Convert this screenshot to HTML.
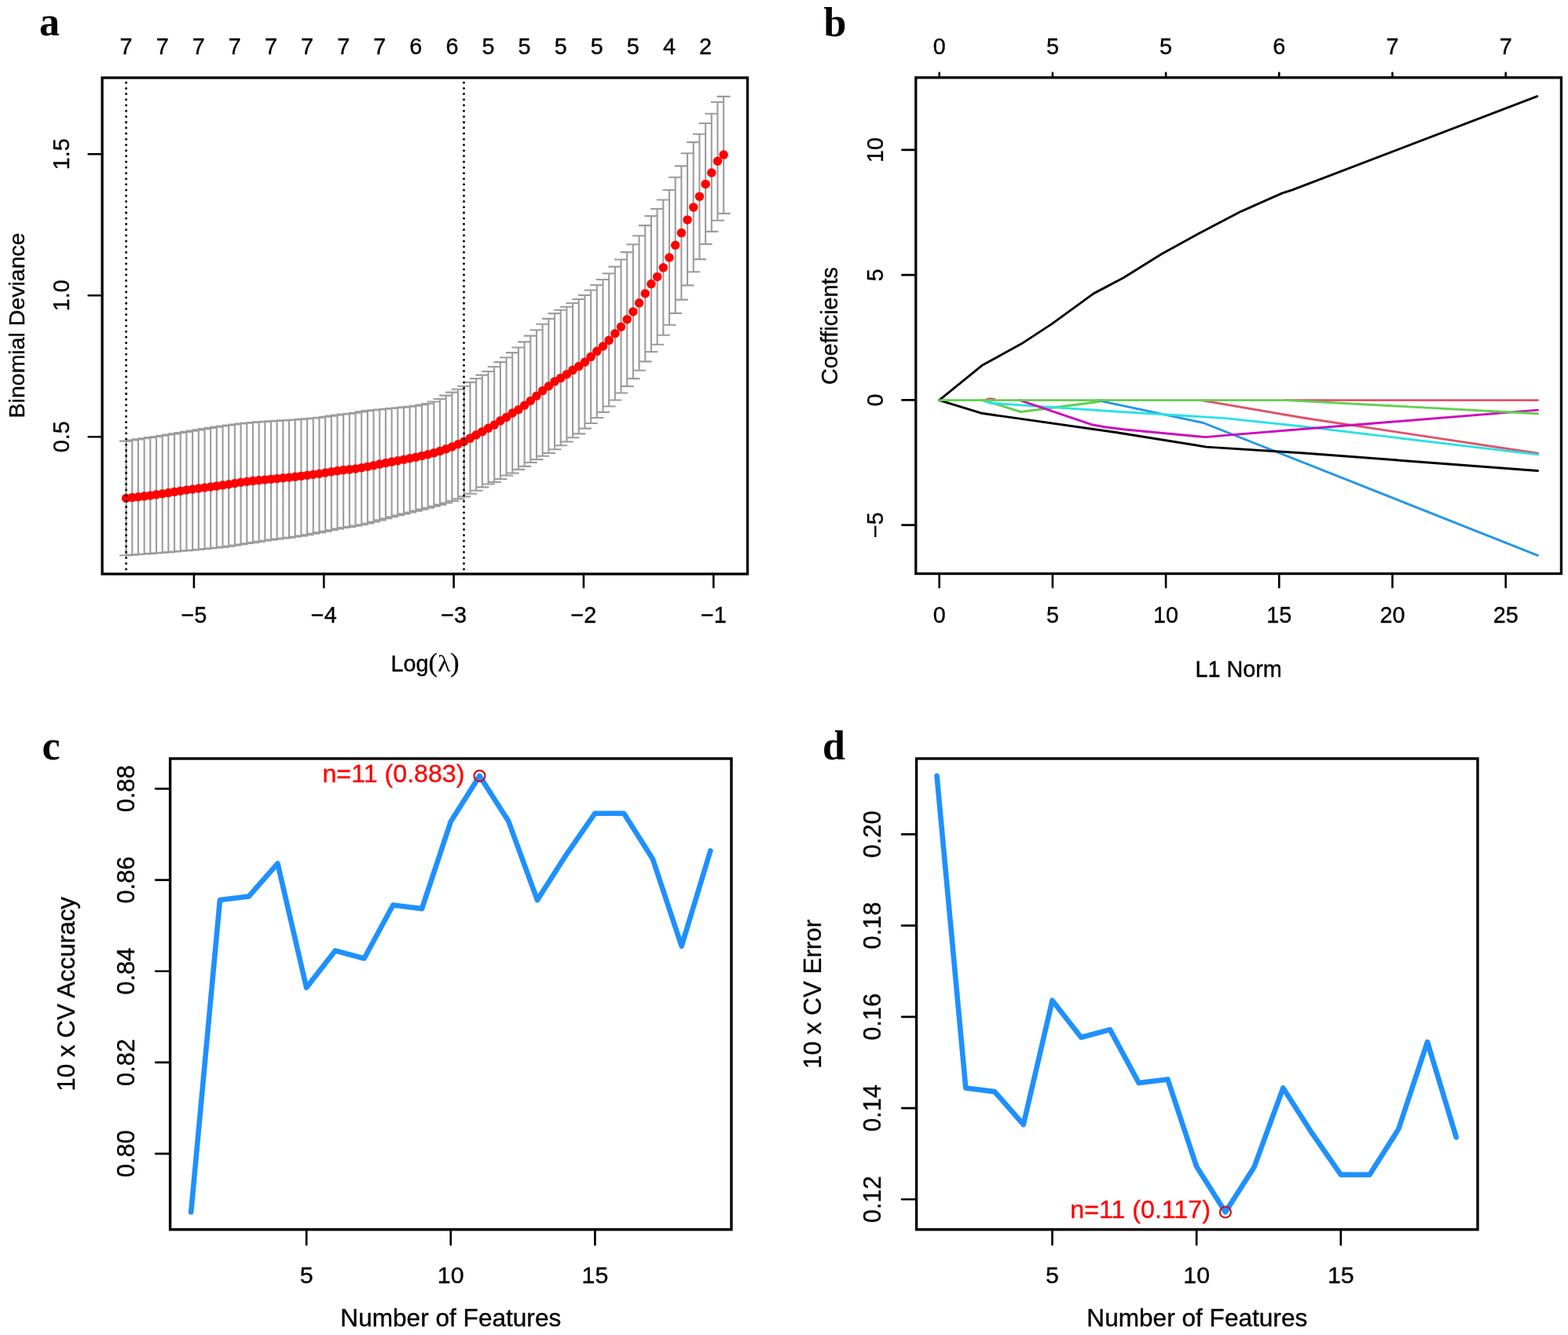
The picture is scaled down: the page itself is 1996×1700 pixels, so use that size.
<!DOCTYPE html>
<html><head><meta charset="utf-8"><title>Figure</title>
<style>html,body{margin:0;padding:0;background:#fff;}svg{display:block;}</style></head>
<body><svg width="1996" height="1700" viewBox="0 0 1996 1700">
<rect width="1996" height="1700" fill="#fff"/>
<path d="M160.60 561.59V707.19M152.10 561.59H169.10M152.10 707.19H169.10M168.28 560.52V706.63M159.78 560.52H176.78M159.78 706.63H176.78M175.96 559.42V706.06M167.46 559.42H184.46M167.46 706.06H184.46M183.65 558.31V705.48M175.15 558.31H192.15M175.15 705.48H192.15M191.33 557.17V704.89M182.83 557.17H199.83M182.83 704.89H199.83M199.01 556.00V704.29M190.51 556.00H207.51M190.51 704.29H207.51M206.69 554.80V703.69M198.19 554.80H215.19M198.19 703.69H215.19M214.38 553.57V703.08M205.88 553.57H222.88M205.88 703.08H222.88M222.06 552.33V702.46M213.56 552.33H230.56M213.56 702.46H230.56M229.74 551.08V701.81M221.24 551.08H238.24M221.24 701.81H238.24M237.42 549.84V701.15M228.92 549.84H245.92M228.92 701.15H245.92M245.11 548.61V700.46M236.61 548.61H253.61M236.61 700.46H253.61M252.79 547.36V699.76M244.29 547.36H261.29M244.29 699.76H261.29M260.47 546.10V699.05M251.97 546.10H268.97M251.97 699.05H268.97M268.15 544.86V698.29M259.65 544.86H276.65M259.65 698.29H276.65M275.83 543.67V697.49M267.33 543.67H284.33M267.33 697.49H284.33M283.52 542.55V696.61M275.02 542.55H292.02M275.02 696.61H292.02M291.20 541.49V695.63M282.70 541.49H299.70M282.70 695.63H299.70M298.88 540.47V694.48M290.38 540.47H307.38M290.38 694.48H307.38M306.56 539.53V693.27M298.06 539.53H315.06M298.06 693.27H315.06M314.25 538.70V692.06M305.75 538.70H322.75M305.75 692.06H322.75M321.93 538.01V690.87M313.43 538.01H330.43M313.43 690.87H330.43M329.61 537.40V689.66M321.11 537.40H338.11M321.11 689.66H338.11M337.29 536.85V688.47M328.79 536.85H345.79M328.79 688.47H345.79M344.98 536.33V687.36M336.48 536.33H353.48M336.48 687.36H353.48M352.66 535.85V686.38M344.16 535.85H361.16M344.16 686.38H361.16M360.34 535.42V685.50M351.84 535.42H368.84M351.84 685.50H368.84M368.02 534.99V684.59M359.52 534.99H376.52M359.52 684.59H376.52M375.70 534.49V683.57M367.20 534.49H384.20M367.20 683.57H384.20M383.39 533.90V682.36M374.89 533.90H391.89M374.89 682.36H391.89M391.07 533.24V681.00M382.57 533.24H399.57M382.57 681.00H399.57M398.75 532.50V679.57M390.25 532.50H407.25M390.25 679.57H407.25M406.43 531.70V678.12M397.93 531.70H414.93M397.93 678.12H414.93M414.12 530.71V676.58M405.62 530.71H422.62M405.62 676.58H422.62M421.80 529.59V674.98M413.30 529.59H430.30M413.30 674.98H430.30M429.48 528.48V673.42M420.98 528.48H437.98M420.98 673.42H437.98M437.16 527.53V672.04M428.66 527.53H445.66M428.66 672.04H445.66M444.85 526.78V670.91M436.35 526.78H453.35M436.35 670.91H453.35M452.53 525.82V669.66M444.03 525.82H461.03M444.03 669.66H461.03M460.21 524.37V668.21M451.71 524.37H468.71M451.71 668.21H468.71M467.89 523.14V666.54M459.39 523.14H476.39M459.39 666.54H476.39M475.57 522.23V664.54M467.07 522.23H484.07M467.07 664.54H484.07M483.26 521.44V662.36M474.76 521.44H491.76M474.76 662.36H491.76M490.94 520.69V660.23M482.44 520.69H499.44M482.44 660.23H499.44M498.62 519.97V658.25M490.12 519.97H507.12M490.12 658.25H507.12M506.30 519.31V656.32M497.80 519.31H514.80M497.80 656.32H514.80M513.99 518.59V654.41M505.49 518.59H522.49M505.49 654.41H522.49M521.67 517.73V652.48M513.17 517.73H530.17M513.17 652.48H530.17M529.35 516.76V650.58M520.85 516.76H537.85M520.85 650.58H537.85M537.03 515.57V648.66M528.53 515.57H545.53M528.53 648.66H545.53M544.72 514.01V646.68M536.22 514.01H553.22M536.22 646.68H553.22M552.40 511.48V644.68M543.90 511.48H560.90M543.90 644.68H560.90M560.08 508.05V642.61M551.58 508.05H568.58M551.58 642.61H568.58M567.76 503.59V640.40M559.26 503.59H576.26M559.26 640.40H576.26M575.44 499.63V638.00M566.94 499.63H583.94M566.94 638.00H583.94M583.13 495.78V635.39M574.63 495.78H591.63M574.63 635.39H591.63M590.81 491.71V632.40M582.31 491.71H599.31M582.31 632.40H599.31M598.49 486.88V628.72M589.99 486.88H606.99M589.99 628.72H606.99M606.17 481.94V624.68M597.67 481.94H614.67M597.67 624.68H614.67M613.86 477.66V620.39M605.36 477.66H622.36M605.36 620.39H622.36M621.54 472.95V616.53M613.04 472.95H630.04M613.04 616.53H630.04M629.22 466.96V613.91M620.72 466.96H637.72M620.72 613.91H637.72M636.90 461.10V609.94M628.40 461.10H645.40M628.40 609.94H645.40M644.58 455.21V605.51M636.08 455.21H653.08M636.08 605.51H653.08M652.27 449.14V602.47M643.77 449.14H660.77M643.77 602.47H660.77M659.95 442.47V597.92M651.45 442.47H668.45M651.45 597.92H668.45M667.63 435.40V593.91M659.13 435.40H676.13M659.13 593.91H676.13M675.31 427.63V589.07M666.81 427.63H683.81M666.81 589.07H683.81M683.00 420.24V585.14M674.50 420.24H691.50M674.50 585.14H691.50M690.68 412.82V580.71M682.18 412.82H699.18M682.18 580.71H699.18M698.36 405.83V577.05M689.86 405.83H706.86M689.86 577.05H706.86M706.04 399.14V572.32M697.54 399.14H714.54M697.54 572.32H714.54M713.73 394.69V567.27M705.23 394.69H722.23M705.23 567.27H722.23M721.41 390.73V562.56M712.91 390.73H729.91M712.91 562.56H729.91M729.09 385.98V557.21M720.59 385.98H737.59M720.59 557.21H737.59M736.77 381.04V552.40M728.27 381.04H745.27M728.27 552.40H745.27M744.45 375.86V545.59M735.95 375.86H752.95M735.95 545.59H752.95M752.14 369.49V539.01M743.64 369.49H760.64M743.64 539.01H760.64M759.82 362.96V532.01M751.32 362.96H768.32M751.32 532.01H768.32M767.50 356.02V524.83M759.00 356.02H776.00M759.00 524.83H776.00M775.18 348.18V517.52M766.68 348.18H783.68M766.68 517.52H783.68M782.87 339.58V509.44M774.37 339.58H791.37M774.37 509.44H791.37M790.55 330.54V500.54M782.05 330.54H799.05M782.05 500.54H799.05M798.23 321.16V491.88M789.73 321.16H806.73M789.73 491.88H806.73M805.91 311.22V482.08M797.41 311.22H814.41M797.41 482.08H814.41M813.60 300.32V471.79M805.10 300.32H822.10M805.10 471.79H822.10M821.28 287.14V460.38M812.78 287.14H829.78M812.78 460.38H829.78M828.96 275.09V447.97M820.46 275.09H837.46M820.46 447.97H837.46M836.64 266.04V438.74M828.14 266.04H845.14M828.14 438.74H845.14M844.32 254.45V426.74M835.82 254.45H852.82M835.82 426.74H852.82M852.01 242.07V413.77M843.51 242.07H860.51M843.51 413.77H860.51M859.69 225.82V398.84M851.19 225.82H868.19M851.19 398.84H868.19M867.37 211.36V381.67M858.87 211.36H875.87M858.87 381.67H875.87M875.05 195.19V363.38M866.55 195.19H883.55M866.55 363.38H883.55M882.74 181.14V346.32M874.24 181.14H891.24M874.24 346.32H891.24M890.42 170.73V330.09M881.92 170.73H898.92M881.92 330.09H898.92M898.10 157.03V310.87M889.60 157.03H906.60M889.60 310.87H906.60M905.78 144.73V294.83M897.28 144.73H914.28M897.28 294.83H914.28M913.47 129.94V280.75M904.97 129.94H921.97M904.97 280.75H921.97M921.15 122.86V271.92M912.65 122.86H929.65M912.65 271.92H929.65" stroke="#9c9c9c" stroke-width="2.1" fill="none"/>
<g fill="#ff0000"><circle cx="160.60" cy="634.39" r="5.75"/><circle cx="168.28" cy="633.59" r="5.75"/><circle cx="175.96" cy="632.74" r="5.75"/><circle cx="183.65" cy="631.84" r="5.75"/><circle cx="191.33" cy="630.88" r="5.75"/><circle cx="199.01" cy="629.87" r="5.75"/><circle cx="206.69" cy="628.76" r="5.75"/><circle cx="214.38" cy="627.58" r="5.75"/><circle cx="222.06" cy="626.36" r="5.75"/><circle cx="229.74" cy="625.16" r="5.75"/><circle cx="237.42" cy="624.00" r="5.75"/><circle cx="245.11" cy="622.92" r="5.75"/><circle cx="252.79" cy="621.89" r="5.75"/><circle cx="260.47" cy="620.90" r="5.75"/><circle cx="268.15" cy="619.90" r="5.75"/><circle cx="275.83" cy="618.90" r="5.75"/><circle cx="283.52" cy="617.85" r="5.75"/><circle cx="291.20" cy="616.72" r="5.75"/><circle cx="298.88" cy="615.50" r="5.75"/><circle cx="306.56" cy="614.29" r="5.75"/><circle cx="314.25" cy="613.23" r="5.75"/><circle cx="321.93" cy="612.36" r="5.75"/><circle cx="329.61" cy="611.59" r="5.75"/><circle cx="337.29" cy="610.88" r="5.75"/><circle cx="344.98" cy="610.14" r="5.75"/><circle cx="352.66" cy="609.39" r="5.75"/><circle cx="360.34" cy="608.66" r="5.75"/><circle cx="368.02" cy="607.90" r="5.75"/><circle cx="375.70" cy="607.08" r="5.75"/><circle cx="383.39" cy="606.18" r="5.75"/><circle cx="391.07" cy="605.22" r="5.75"/><circle cx="398.75" cy="604.22" r="5.75"/><circle cx="406.43" cy="603.17" r="5.75"/><circle cx="414.12" cy="602.01" r="5.75"/><circle cx="421.80" cy="600.79" r="5.75"/><circle cx="429.48" cy="599.61" r="5.75"/><circle cx="437.16" cy="598.62" r="5.75"/><circle cx="444.85" cy="597.87" r="5.75"/><circle cx="452.53" cy="596.96" r="5.75"/><circle cx="460.21" cy="595.73" r="5.75"/><circle cx="467.89" cy="594.28" r="5.75"/><circle cx="475.57" cy="592.70" r="5.75"/><circle cx="483.26" cy="591.10" r="5.75"/><circle cx="490.94" cy="589.56" r="5.75"/><circle cx="498.62" cy="588.12" r="5.75"/><circle cx="506.30" cy="586.68" r="5.75"/><circle cx="513.99" cy="585.21" r="5.75"/><circle cx="521.67" cy="583.69" r="5.75"/><circle cx="529.35" cy="582.15" r="5.75"/><circle cx="537.03" cy="580.52" r="5.75"/><circle cx="544.72" cy="578.70" r="5.75"/><circle cx="552.40" cy="576.66" r="5.75"/><circle cx="560.08" cy="574.39" r="5.75"/><circle cx="567.76" cy="571.87" r="5.75"/><circle cx="575.44" cy="569.02" r="5.75"/><circle cx="583.13" cy="565.74" r="5.75"/><circle cx="590.81" cy="562.16" r="5.75"/><circle cx="598.49" cy="558.11" r="5.75"/><circle cx="606.17" cy="553.87" r="5.75"/><circle cx="613.86" cy="549.64" r="5.75"/><circle cx="621.54" cy="545.36" r="5.75"/><circle cx="629.22" cy="541.06" r="5.75"/><circle cx="636.90" cy="535.84" r="5.75"/><circle cx="644.58" cy="531.38" r="5.75"/><circle cx="652.27" cy="526.03" r="5.75"/><circle cx="659.95" cy="521.71" r="5.75"/><circle cx="667.63" cy="516.26" r="5.75"/><circle cx="675.31" cy="510.48" r="5.75"/><circle cx="683.00" cy="504.25" r="5.75"/><circle cx="690.68" cy="497.59" r="5.75"/><circle cx="698.36" cy="491.74" r="5.75"/><circle cx="706.04" cy="485.81" r="5.75"/><circle cx="713.73" cy="481.39" r="5.75"/><circle cx="721.41" cy="476.66" r="5.75"/><circle cx="729.09" cy="471.31" r="5.75"/><circle cx="736.77" cy="466.52" r="5.75"/><circle cx="744.45" cy="461.12" r="5.75"/><circle cx="752.14" cy="454.31" r="5.75"/><circle cx="759.82" cy="447.33" r="5.75"/><circle cx="767.50" cy="441.05" r="5.75"/><circle cx="775.18" cy="433.31" r="5.75"/><circle cx="782.87" cy="424.74" r="5.75"/><circle cx="790.55" cy="416.14" r="5.75"/><circle cx="798.23" cy="406.79" r="5.75"/><circle cx="805.91" cy="396.89" r="5.75"/><circle cx="813.60" cy="385.81" r="5.75"/><circle cx="821.28" cy="373.78" r="5.75"/><circle cx="828.96" cy="361.61" r="5.75"/><circle cx="836.64" cy="352.44" r="5.75"/><circle cx="844.32" cy="340.84" r="5.75"/><circle cx="852.01" cy="327.97" r="5.75"/><circle cx="859.69" cy="312.23" r="5.75"/><circle cx="867.37" cy="296.56" r="5.75"/><circle cx="875.05" cy="279.89" r="5.75"/><circle cx="882.74" cy="263.93" r="5.75"/><circle cx="890.42" cy="250.16" r="5.75"/><circle cx="898.10" cy="234.40" r="5.75"/><circle cx="905.78" cy="220.03" r="5.75"/><circle cx="913.47" cy="205.25" r="5.75"/><circle cx="921.15" cy="197.10" r="5.75"/></g>
<line x1="160.6" y1="105.2" x2="160.6" y2="731" stroke="#000" stroke-width="3.0" stroke-dasharray="0.01 7.193" stroke-linecap="round"/>
<line x1="590.5" y1="105.2" x2="590.5" y2="731" stroke="#000" stroke-width="3.0" stroke-dasharray="0.01 7.193" stroke-linecap="round"/>
<rect x="130.1" y="99.0" width="821.50" height="631.90" fill="none" stroke="#000" stroke-width="3.3"/>
<line x1="112.70" y1="556.30" x2="130.10" y2="556.30" stroke="#000" stroke-width="2.6" stroke-linecap="round"/>
<text x="88.00" y="556.30" font-size="28.8" text-anchor="middle" fill="#000" stroke="#000" stroke-width="0.35" font-family='"Liberation Sans", Arial, Helvetica, sans-serif' font-weight="normal" transform="rotate(-90 88.00 556.30)">0.5</text>
<line x1="112.70" y1="376.30" x2="130.10" y2="376.30" stroke="#000" stroke-width="2.6" stroke-linecap="round"/>
<text x="88.00" y="376.30" font-size="28.8" text-anchor="middle" fill="#000" stroke="#000" stroke-width="0.35" font-family='"Liberation Sans", Arial, Helvetica, sans-serif' font-weight="normal" transform="rotate(-90 88.00 376.30)">1.0</text>
<line x1="112.70" y1="196.30" x2="130.10" y2="196.30" stroke="#000" stroke-width="2.6" stroke-linecap="round"/>
<text x="88.00" y="196.30" font-size="28.8" text-anchor="middle" fill="#000" stroke="#000" stroke-width="0.35" font-family='"Liberation Sans", Arial, Helvetica, sans-serif' font-weight="normal" transform="rotate(-90 88.00 196.30)">1.5</text>
<line x1="246.90" y1="730.90" x2="246.90" y2="748.00" stroke="#000" stroke-width="2.6" stroke-linecap="round"/>
<text x="246.90" y="793.00" font-size="28.8" text-anchor="middle" fill="#000" stroke="#000" stroke-width="0.35" font-family='"Liberation Sans", Arial, Helvetica, sans-serif' font-weight="normal">−5</text>
<line x1="412.25" y1="730.90" x2="412.25" y2="748.00" stroke="#000" stroke-width="2.6" stroke-linecap="round"/>
<text x="412.25" y="793.00" font-size="28.8" text-anchor="middle" fill="#000" stroke="#000" stroke-width="0.35" font-family='"Liberation Sans", Arial, Helvetica, sans-serif' font-weight="normal">−4</text>
<line x1="577.60" y1="730.90" x2="577.60" y2="748.00" stroke="#000" stroke-width="2.6" stroke-linecap="round"/>
<text x="577.60" y="793.00" font-size="28.8" text-anchor="middle" fill="#000" stroke="#000" stroke-width="0.35" font-family='"Liberation Sans", Arial, Helvetica, sans-serif' font-weight="normal">−3</text>
<line x1="742.95" y1="730.90" x2="742.95" y2="748.00" stroke="#000" stroke-width="2.6" stroke-linecap="round"/>
<text x="742.95" y="793.00" font-size="28.8" text-anchor="middle" fill="#000" stroke="#000" stroke-width="0.35" font-family='"Liberation Sans", Arial, Helvetica, sans-serif' font-weight="normal">−2</text>
<line x1="908.30" y1="730.90" x2="908.30" y2="748.00" stroke="#000" stroke-width="2.6" stroke-linecap="round"/>
<text x="908.30" y="793.00" font-size="28.8" text-anchor="middle" fill="#000" stroke="#000" stroke-width="0.35" font-family='"Liberation Sans", Arial, Helvetica, sans-serif' font-weight="normal">−1</text>
<text x="160.60" y="68.60" font-size="28.8" text-anchor="middle" fill="#000" stroke="#000" stroke-width="0.35" font-family='"Liberation Sans", Arial, Helvetica, sans-serif' font-weight="normal">7</text>
<text x="206.69" y="68.60" font-size="28.8" text-anchor="middle" fill="#000" stroke="#000" stroke-width="0.35" font-family='"Liberation Sans", Arial, Helvetica, sans-serif' font-weight="normal">7</text>
<text x="252.78" y="68.60" font-size="28.8" text-anchor="middle" fill="#000" stroke="#000" stroke-width="0.35" font-family='"Liberation Sans", Arial, Helvetica, sans-serif' font-weight="normal">7</text>
<text x="298.87" y="68.60" font-size="28.8" text-anchor="middle" fill="#000" stroke="#000" stroke-width="0.35" font-family='"Liberation Sans", Arial, Helvetica, sans-serif' font-weight="normal">7</text>
<text x="344.96" y="68.60" font-size="28.8" text-anchor="middle" fill="#000" stroke="#000" stroke-width="0.35" font-family='"Liberation Sans", Arial, Helvetica, sans-serif' font-weight="normal">7</text>
<text x="391.05" y="68.60" font-size="28.8" text-anchor="middle" fill="#000" stroke="#000" stroke-width="0.35" font-family='"Liberation Sans", Arial, Helvetica, sans-serif' font-weight="normal">7</text>
<text x="437.14" y="68.60" font-size="28.8" text-anchor="middle" fill="#000" stroke="#000" stroke-width="0.35" font-family='"Liberation Sans", Arial, Helvetica, sans-serif' font-weight="normal">7</text>
<text x="483.23" y="68.60" font-size="28.8" text-anchor="middle" fill="#000" stroke="#000" stroke-width="0.35" font-family='"Liberation Sans", Arial, Helvetica, sans-serif' font-weight="normal">7</text>
<text x="529.32" y="68.60" font-size="28.8" text-anchor="middle" fill="#000" stroke="#000" stroke-width="0.35" font-family='"Liberation Sans", Arial, Helvetica, sans-serif' font-weight="normal">6</text>
<text x="575.41" y="68.60" font-size="28.8" text-anchor="middle" fill="#000" stroke="#000" stroke-width="0.35" font-family='"Liberation Sans", Arial, Helvetica, sans-serif' font-weight="normal">6</text>
<text x="621.50" y="68.60" font-size="28.8" text-anchor="middle" fill="#000" stroke="#000" stroke-width="0.35" font-family='"Liberation Sans", Arial, Helvetica, sans-serif' font-weight="normal">5</text>
<text x="667.59" y="68.60" font-size="28.8" text-anchor="middle" fill="#000" stroke="#000" stroke-width="0.35" font-family='"Liberation Sans", Arial, Helvetica, sans-serif' font-weight="normal">5</text>
<text x="713.68" y="68.60" font-size="28.8" text-anchor="middle" fill="#000" stroke="#000" stroke-width="0.35" font-family='"Liberation Sans", Arial, Helvetica, sans-serif' font-weight="normal">5</text>
<text x="759.77" y="68.60" font-size="28.8" text-anchor="middle" fill="#000" stroke="#000" stroke-width="0.35" font-family='"Liberation Sans", Arial, Helvetica, sans-serif' font-weight="normal">5</text>
<text x="805.86" y="68.60" font-size="28.8" text-anchor="middle" fill="#000" stroke="#000" stroke-width="0.35" font-family='"Liberation Sans", Arial, Helvetica, sans-serif' font-weight="normal">5</text>
<text x="851.95" y="68.60" font-size="28.8" text-anchor="middle" fill="#000" stroke="#000" stroke-width="0.35" font-family='"Liberation Sans", Arial, Helvetica, sans-serif' font-weight="normal">4</text>
<text x="898.04" y="68.60" font-size="28.8" text-anchor="middle" fill="#000" stroke="#000" stroke-width="0.35" font-family='"Liberation Sans", Arial, Helvetica, sans-serif' font-weight="normal">2</text>
<text x="31.00" y="414.40" font-size="28.5" text-anchor="middle" fill="#000" stroke="#000" stroke-width="0.35" font-family='"Liberation Sans", Arial, Helvetica, sans-serif' font-weight="normal" transform="rotate(-90 31.00 414.40)">Binomial Deviance</text>
<text x="497.60" y="855.00" font-size="28.8" text-anchor="start" fill="#000" stroke="#000" stroke-width="0.35" font-family='"Liberation Sans", Arial, Helvetica, sans-serif' font-weight="normal">Log</text>
<text x="545.60" y="854.60" font-size="34" text-anchor="start" fill="#000" stroke="#000" stroke-width="0.35" font-family='"Liberation Serif", "Times New Roman", serif' font-weight="normal">(</text>
<text x="573.30" y="854.60" font-size="34" text-anchor="start" fill="#000" stroke="#000" stroke-width="0.35" font-family='"Liberation Serif", "Times New Roman", serif' font-weight="normal">)</text>
<text x="557.0" y="855.0" font-size="29" font-family='"Liberation Serif", "Times New Roman", serif' transform="translate(557 855) scale(1.18 1) translate(-557 -855)">λ</text>
<text x="50.00" y="45.20" font-size="52" text-anchor="start" fill="#000" font-family='"Liberation Serif", "Times New Roman", serif' font-weight="bold">a</text>
<polyline points="1195.60,509.60 1250.10,465.30 1300.60,437.60 1339.10,412.40 1392.00,373.90 1430.50,353.50 1478.60,323.40 1526.70,297.00 1579.60,269.30 1632.50,245.80 1645.00,241.80 1956.80,122.70" fill="none" stroke="#000" stroke-width="2.9" stroke-linejoin="round" stroke-linecap="round"/>
<polyline points="1637.00,509.60 1957.60,509.60" fill="none" stroke="#DF536B" stroke-width="2.9" stroke-linejoin="round" stroke-linecap="round"/>
<polyline points="1256.00,508.40 1261.00,507.70 1266.00,508.40" fill="none" stroke="#DF536B" stroke-width="2.9" stroke-linejoin="round" stroke-linecap="round"/>
<polyline points="1528.50,509.60 1660.00,532.30 1957.60,577.20" fill="none" stroke="#DF536B" stroke-width="2.9" stroke-linejoin="round" stroke-linecap="round"/>
<polyline points="1252.00,509.60 1299.40,524.50 1396.80,511.80 1405.00,509.60" fill="none" stroke="#61D04F" stroke-width="2.9" stroke-linejoin="round" stroke-linecap="round"/>
<polyline points="1396.50,509.60 1531.80,538.50 1957.60,707.30" fill="none" stroke="#2297E6" stroke-width="2.9" stroke-linejoin="round" stroke-linecap="round"/>
<polyline points="1250.10,509.60 1260.00,513.20 1310.00,516.60 1420.00,524.00 1560.00,532.60 1660.00,543.30 1957.60,578.90" fill="none" stroke="#28E2E5" stroke-width="2.9" stroke-linejoin="round" stroke-linecap="round"/>
<polyline points="1298.00,509.60 1389.60,540.70 1406.40,543.70 1430.00,546.70 1524.70,555.80 1534.50,556.60 1560.00,554.40 1660.00,546.30 1957.60,522.10" fill="none" stroke="#CD0BBC" stroke-width="2.9" stroke-linejoin="round" stroke-linecap="round"/>
<polyline points="1195.60,509.60 1250.10,526.30 1420.00,550.50 1535.40,569.10 1660.00,577.00 1957.60,599.50" fill="none" stroke="#000" stroke-width="2.9" stroke-linejoin="round" stroke-linecap="round"/>
<polyline points="1195.60,509.60 1637.00,509.60 1957.60,526.70" fill="none" stroke="#61D04F" stroke-width="2.9" stroke-linejoin="round" stroke-linecap="round"/>
<rect x="1165.8" y="98.8" width="821.60" height="631.70" fill="none" stroke="#000" stroke-width="3.3"/>
<line x1="1148.40" y1="668.65" x2="1165.80" y2="668.65" stroke="#000" stroke-width="2.6" stroke-linecap="round"/>
<text x="1123.60" y="668.65" font-size="28.8" text-anchor="middle" fill="#000" stroke="#000" stroke-width="0.35" font-family='"Liberation Sans", Arial, Helvetica, sans-serif' font-weight="normal" transform="rotate(-90 1123.60 668.65)">−5</text>
<line x1="1148.40" y1="509.40" x2="1165.80" y2="509.40" stroke="#000" stroke-width="2.6" stroke-linecap="round"/>
<text x="1123.60" y="509.40" font-size="28.8" text-anchor="middle" fill="#000" stroke="#000" stroke-width="0.35" font-family='"Liberation Sans", Arial, Helvetica, sans-serif' font-weight="normal" transform="rotate(-90 1123.60 509.40)">0</text>
<line x1="1148.40" y1="350.15" x2="1165.80" y2="350.15" stroke="#000" stroke-width="2.6" stroke-linecap="round"/>
<text x="1123.60" y="350.15" font-size="28.8" text-anchor="middle" fill="#000" stroke="#000" stroke-width="0.35" font-family='"Liberation Sans", Arial, Helvetica, sans-serif' font-weight="normal" transform="rotate(-90 1123.60 350.15)">5</text>
<line x1="1148.40" y1="190.90" x2="1165.80" y2="190.90" stroke="#000" stroke-width="2.6" stroke-linecap="round"/>
<text x="1123.60" y="190.90" font-size="28.8" text-anchor="middle" fill="#000" stroke="#000" stroke-width="0.35" font-family='"Liberation Sans", Arial, Helvetica, sans-serif' font-weight="normal" transform="rotate(-90 1123.60 190.90)">10</text>
<line x1="1195.70" y1="730.50" x2="1195.70" y2="747.90" stroke="#000" stroke-width="2.6" stroke-linecap="round"/>
<text x="1195.70" y="792.60" font-size="28.8" text-anchor="middle" fill="#000" stroke="#000" stroke-width="0.35" font-family='"Liberation Sans", Arial, Helvetica, sans-serif' font-weight="normal">0</text>
<line x1="1339.90" y1="730.50" x2="1339.90" y2="747.90" stroke="#000" stroke-width="2.6" stroke-linecap="round"/>
<text x="1339.90" y="792.60" font-size="28.8" text-anchor="middle" fill="#000" stroke="#000" stroke-width="0.35" font-family='"Liberation Sans", Arial, Helvetica, sans-serif' font-weight="normal">5</text>
<line x1="1484.10" y1="730.50" x2="1484.10" y2="747.90" stroke="#000" stroke-width="2.6" stroke-linecap="round"/>
<text x="1484.10" y="792.60" font-size="28.8" text-anchor="middle" fill="#000" stroke="#000" stroke-width="0.35" font-family='"Liberation Sans", Arial, Helvetica, sans-serif' font-weight="normal">10</text>
<line x1="1628.30" y1="730.50" x2="1628.30" y2="747.90" stroke="#000" stroke-width="2.6" stroke-linecap="round"/>
<text x="1628.30" y="792.60" font-size="28.8" text-anchor="middle" fill="#000" stroke="#000" stroke-width="0.35" font-family='"Liberation Sans", Arial, Helvetica, sans-serif' font-weight="normal">15</text>
<line x1="1772.50" y1="730.50" x2="1772.50" y2="747.90" stroke="#000" stroke-width="2.6" stroke-linecap="round"/>
<text x="1772.50" y="792.60" font-size="28.8" text-anchor="middle" fill="#000" stroke="#000" stroke-width="0.35" font-family='"Liberation Sans", Arial, Helvetica, sans-serif' font-weight="normal">20</text>
<line x1="1916.70" y1="730.50" x2="1916.70" y2="747.90" stroke="#000" stroke-width="2.6" stroke-linecap="round"/>
<text x="1916.70" y="792.60" font-size="28.8" text-anchor="middle" fill="#000" stroke="#000" stroke-width="0.35" font-family='"Liberation Sans", Arial, Helvetica, sans-serif' font-weight="normal">25</text>
<line x1="1195.70" y1="98.80" x2="1195.70" y2="92.90" stroke="#000" stroke-width="2.6" stroke-linecap="round"/>
<text x="1195.70" y="68.90" font-size="28.8" text-anchor="middle" fill="#000" stroke="#000" stroke-width="0.35" font-family='"Liberation Sans", Arial, Helvetica, sans-serif' font-weight="normal">0</text>
<line x1="1339.90" y1="98.80" x2="1339.90" y2="92.90" stroke="#000" stroke-width="2.6" stroke-linecap="round"/>
<text x="1339.90" y="68.90" font-size="28.8" text-anchor="middle" fill="#000" stroke="#000" stroke-width="0.35" font-family='"Liberation Sans", Arial, Helvetica, sans-serif' font-weight="normal">5</text>
<line x1="1484.10" y1="98.80" x2="1484.10" y2="92.90" stroke="#000" stroke-width="2.6" stroke-linecap="round"/>
<text x="1484.10" y="68.90" font-size="28.8" text-anchor="middle" fill="#000" stroke="#000" stroke-width="0.35" font-family='"Liberation Sans", Arial, Helvetica, sans-serif' font-weight="normal">5</text>
<line x1="1628.30" y1="98.80" x2="1628.30" y2="92.90" stroke="#000" stroke-width="2.6" stroke-linecap="round"/>
<text x="1628.30" y="68.90" font-size="28.8" text-anchor="middle" fill="#000" stroke="#000" stroke-width="0.35" font-family='"Liberation Sans", Arial, Helvetica, sans-serif' font-weight="normal">6</text>
<line x1="1772.50" y1="98.80" x2="1772.50" y2="92.90" stroke="#000" stroke-width="2.6" stroke-linecap="round"/>
<text x="1772.50" y="68.90" font-size="28.8" text-anchor="middle" fill="#000" stroke="#000" stroke-width="0.35" font-family='"Liberation Sans", Arial, Helvetica, sans-serif' font-weight="normal">7</text>
<line x1="1916.70" y1="98.80" x2="1916.70" y2="92.90" stroke="#000" stroke-width="2.6" stroke-linecap="round"/>
<text x="1916.70" y="68.90" font-size="28.8" text-anchor="middle" fill="#000" stroke="#000" stroke-width="0.35" font-family='"Liberation Sans", Arial, Helvetica, sans-serif' font-weight="normal">7</text>
<text x="1066.10" y="415.00" font-size="28.8" text-anchor="middle" fill="#000" stroke="#000" stroke-width="0.35" font-family='"Liberation Sans", Arial, Helvetica, sans-serif' font-weight="normal" transform="rotate(-90 1066.10 415.00)">Coefficients</text>
<text x="1576.60" y="862.20" font-size="28.8" text-anchor="middle" fill="#000" stroke="#000" stroke-width="0.35" font-family='"Liberation Sans", Arial, Helvetica, sans-serif' font-weight="normal">L1 Norm</text>
<text x="1048.50" y="45.60" font-size="52" text-anchor="start" fill="#000" font-family='"Liberation Serif", "Times New Roman", serif' font-weight="bold">b</text>
<polyline points="243.20,1543.51 279.93,1146.10 316.66,1141.45 353.39,1099.62 390.12,1257.65 426.85,1210.59 463.58,1220.47 500.31,1152.49 537.04,1157.14 573.77,1046.17 610.50,988.07 647.23,1045.59 683.96,1146.10 720.69,1088.58 757.42,1035.71 794.15,1035.71 830.88,1093.81 867.61,1204.78 904.34,1083.35" fill="none" stroke="#1E90FF" stroke-width="6.6" stroke-linejoin="round" stroke-linecap="round"/>
<rect x="216.60" y="966.0" width="714.40" height="599.70" fill="none" stroke="#000" stroke-width="3.4"/>
<line x1="198.20" y1="1469.14" x2="216.60" y2="1469.14" stroke="#000" stroke-width="2.7" stroke-linecap="round"/>
<text x="170.60" y="1469.14" font-size="30.8" text-anchor="middle" fill="#000" stroke="#000" stroke-width="0.35" font-family='"Liberation Sans", Arial, Helvetica, sans-serif' font-weight="normal" transform="rotate(-90 170.60 1469.14)">0.80</text>
<line x1="198.20" y1="1352.94" x2="216.60" y2="1352.94" stroke="#000" stroke-width="2.7" stroke-linecap="round"/>
<text x="170.60" y="1352.94" font-size="30.8" text-anchor="middle" fill="#000" stroke="#000" stroke-width="0.35" font-family='"Liberation Sans", Arial, Helvetica, sans-serif' font-weight="normal" transform="rotate(-90 170.60 1352.94)">0.82</text>
<line x1="198.20" y1="1236.74" x2="216.60" y2="1236.74" stroke="#000" stroke-width="2.7" stroke-linecap="round"/>
<text x="170.60" y="1236.74" font-size="30.8" text-anchor="middle" fill="#000" stroke="#000" stroke-width="0.35" font-family='"Liberation Sans", Arial, Helvetica, sans-serif' font-weight="normal" transform="rotate(-90 170.60 1236.74)">0.84</text>
<line x1="198.20" y1="1120.54" x2="216.60" y2="1120.54" stroke="#000" stroke-width="2.7" stroke-linecap="round"/>
<text x="170.60" y="1120.54" font-size="30.8" text-anchor="middle" fill="#000" stroke="#000" stroke-width="0.35" font-family='"Liberation Sans", Arial, Helvetica, sans-serif' font-weight="normal" transform="rotate(-90 170.60 1120.54)">0.86</text>
<line x1="198.20" y1="1004.34" x2="216.60" y2="1004.34" stroke="#000" stroke-width="2.7" stroke-linecap="round"/>
<text x="170.60" y="1004.34" font-size="30.8" text-anchor="middle" fill="#000" stroke="#000" stroke-width="0.35" font-family='"Liberation Sans", Arial, Helvetica, sans-serif' font-weight="normal" transform="rotate(-90 170.60 1004.34)">0.88</text>
<line x1="390.12" y1="1565.70" x2="390.12" y2="1585.10" stroke="#000" stroke-width="2.7" stroke-linecap="round"/>
<text x="390.12" y="1633.50" font-size="30.4" text-anchor="middle" fill="#000" stroke="#000" stroke-width="0.35" font-family='"Liberation Sans", Arial, Helvetica, sans-serif' font-weight="normal">5</text>
<line x1="573.77" y1="1565.70" x2="573.77" y2="1585.10" stroke="#000" stroke-width="2.7" stroke-linecap="round"/>
<text x="573.77" y="1633.50" font-size="30.4" text-anchor="middle" fill="#000" stroke="#000" stroke-width="0.35" font-family='"Liberation Sans", Arial, Helvetica, sans-serif' font-weight="normal">10</text>
<line x1="757.42" y1="1565.70" x2="757.42" y2="1585.10" stroke="#000" stroke-width="2.7" stroke-linecap="round"/>
<text x="757.42" y="1633.50" font-size="30.4" text-anchor="middle" fill="#000" stroke="#000" stroke-width="0.35" font-family='"Liberation Sans", Arial, Helvetica, sans-serif' font-weight="normal">15</text>
<text x="573.80" y="1688.80" font-size="31.6" text-anchor="middle" fill="#000" stroke="#000" stroke-width="0.35" font-family='"Liberation Sans", Arial, Helvetica, sans-serif' font-weight="normal">Number of Features</text>
<text x="95.30" y="1265.85" font-size="31.4" text-anchor="middle" fill="#000" stroke="#000" stroke-width="0.35" font-family='"Liberation Sans", Arial, Helvetica, sans-serif' font-weight="normal" transform="rotate(-90 95.30 1265.85)">10 x CV Accuracy</text>
<circle cx="610.50" cy="988.07" r="7.0" fill="none" stroke="#c4141c" stroke-width="2.2"/>
<text x="591.50" y="995.97" font-size="32.2" text-anchor="end" fill="#ff0000" stroke="#ff0000" stroke-width="0.35" font-family='"Liberation Sans", Arial, Helvetica, sans-serif' font-weight="normal">n=11 (0.883)</text>
<text x="53.60" y="967.00" font-size="52" text-anchor="start" fill="#000" font-family='"Liberation Serif", "Times New Roman", serif' font-weight="bold">c</text>
<polyline points="1192.60,988.07 1229.33,1385.47 1266.06,1390.12 1302.79,1431.95 1339.52,1273.92 1376.25,1320.98 1412.98,1311.11 1449.71,1379.08 1486.44,1374.43 1523.17,1485.41 1559.90,1543.51 1596.63,1485.99 1633.36,1385.47 1670.09,1442.99 1706.82,1495.86 1743.55,1495.86 1780.28,1437.76 1817.01,1326.79 1853.74,1448.22" fill="none" stroke="#1E90FF" stroke-width="6.6" stroke-linejoin="round" stroke-linecap="round"/>
<rect x="1166.60" y="966.0" width="714.40" height="599.70" fill="none" stroke="#000" stroke-width="3.4"/>
<line x1="1148.20" y1="1527.24" x2="1166.60" y2="1527.24" stroke="#000" stroke-width="2.7" stroke-linecap="round"/>
<text x="1120.60" y="1527.24" font-size="30.8" text-anchor="middle" fill="#000" stroke="#000" stroke-width="0.35" font-family='"Liberation Sans", Arial, Helvetica, sans-serif' font-weight="normal" transform="rotate(-90 1120.60 1527.24)">0.12</text>
<line x1="1148.20" y1="1411.04" x2="1166.60" y2="1411.04" stroke="#000" stroke-width="2.7" stroke-linecap="round"/>
<text x="1120.60" y="1411.04" font-size="30.8" text-anchor="middle" fill="#000" stroke="#000" stroke-width="0.35" font-family='"Liberation Sans", Arial, Helvetica, sans-serif' font-weight="normal" transform="rotate(-90 1120.60 1411.04)">0.14</text>
<line x1="1148.20" y1="1294.84" x2="1166.60" y2="1294.84" stroke="#000" stroke-width="2.7" stroke-linecap="round"/>
<text x="1120.60" y="1294.84" font-size="30.8" text-anchor="middle" fill="#000" stroke="#000" stroke-width="0.35" font-family='"Liberation Sans", Arial, Helvetica, sans-serif' font-weight="normal" transform="rotate(-90 1120.60 1294.84)">0.16</text>
<line x1="1148.20" y1="1178.64" x2="1166.60" y2="1178.64" stroke="#000" stroke-width="2.7" stroke-linecap="round"/>
<text x="1120.60" y="1178.64" font-size="30.8" text-anchor="middle" fill="#000" stroke="#000" stroke-width="0.35" font-family='"Liberation Sans", Arial, Helvetica, sans-serif' font-weight="normal" transform="rotate(-90 1120.60 1178.64)">0.18</text>
<line x1="1148.20" y1="1062.44" x2="1166.60" y2="1062.44" stroke="#000" stroke-width="2.7" stroke-linecap="round"/>
<text x="1120.60" y="1062.44" font-size="30.8" text-anchor="middle" fill="#000" stroke="#000" stroke-width="0.35" font-family='"Liberation Sans", Arial, Helvetica, sans-serif' font-weight="normal" transform="rotate(-90 1120.60 1062.44)">0.20</text>
<line x1="1339.52" y1="1565.70" x2="1339.52" y2="1585.10" stroke="#000" stroke-width="2.7" stroke-linecap="round"/>
<text x="1339.52" y="1633.50" font-size="30.4" text-anchor="middle" fill="#000" stroke="#000" stroke-width="0.35" font-family='"Liberation Sans", Arial, Helvetica, sans-serif' font-weight="normal">5</text>
<line x1="1523.17" y1="1565.70" x2="1523.17" y2="1585.10" stroke="#000" stroke-width="2.7" stroke-linecap="round"/>
<text x="1523.17" y="1633.50" font-size="30.4" text-anchor="middle" fill="#000" stroke="#000" stroke-width="0.35" font-family='"Liberation Sans", Arial, Helvetica, sans-serif' font-weight="normal">10</text>
<line x1="1706.82" y1="1565.70" x2="1706.82" y2="1585.10" stroke="#000" stroke-width="2.7" stroke-linecap="round"/>
<text x="1706.82" y="1633.50" font-size="30.4" text-anchor="middle" fill="#000" stroke="#000" stroke-width="0.35" font-family='"Liberation Sans", Arial, Helvetica, sans-serif' font-weight="normal">15</text>
<text x="1523.80" y="1688.80" font-size="31.6" text-anchor="middle" fill="#000" stroke="#000" stroke-width="0.35" font-family='"Liberation Sans", Arial, Helvetica, sans-serif' font-weight="normal">Number of Features</text>
<text x="1045.30" y="1265.85" font-size="31.4" text-anchor="middle" fill="#000" stroke="#000" stroke-width="0.35" font-family='"Liberation Sans", Arial, Helvetica, sans-serif' font-weight="normal" transform="rotate(-90 1045.30 1265.85)">10 x CV Error</text>
<circle cx="1559.90" cy="1543.51" r="7.0" fill="none" stroke="#c4141c" stroke-width="2.2"/>
<text x="1540.90" y="1551.41" font-size="32.2" text-anchor="end" fill="#ff0000" stroke="#ff0000" stroke-width="0.35" font-family='"Liberation Sans", Arial, Helvetica, sans-serif' font-weight="normal">n=11 (0.117)</text>
<text x="1047.00" y="967.00" font-size="52" text-anchor="start" fill="#000" font-family='"Liberation Serif", "Times New Roman", serif' font-weight="bold">d</text>
</svg></body></html>
